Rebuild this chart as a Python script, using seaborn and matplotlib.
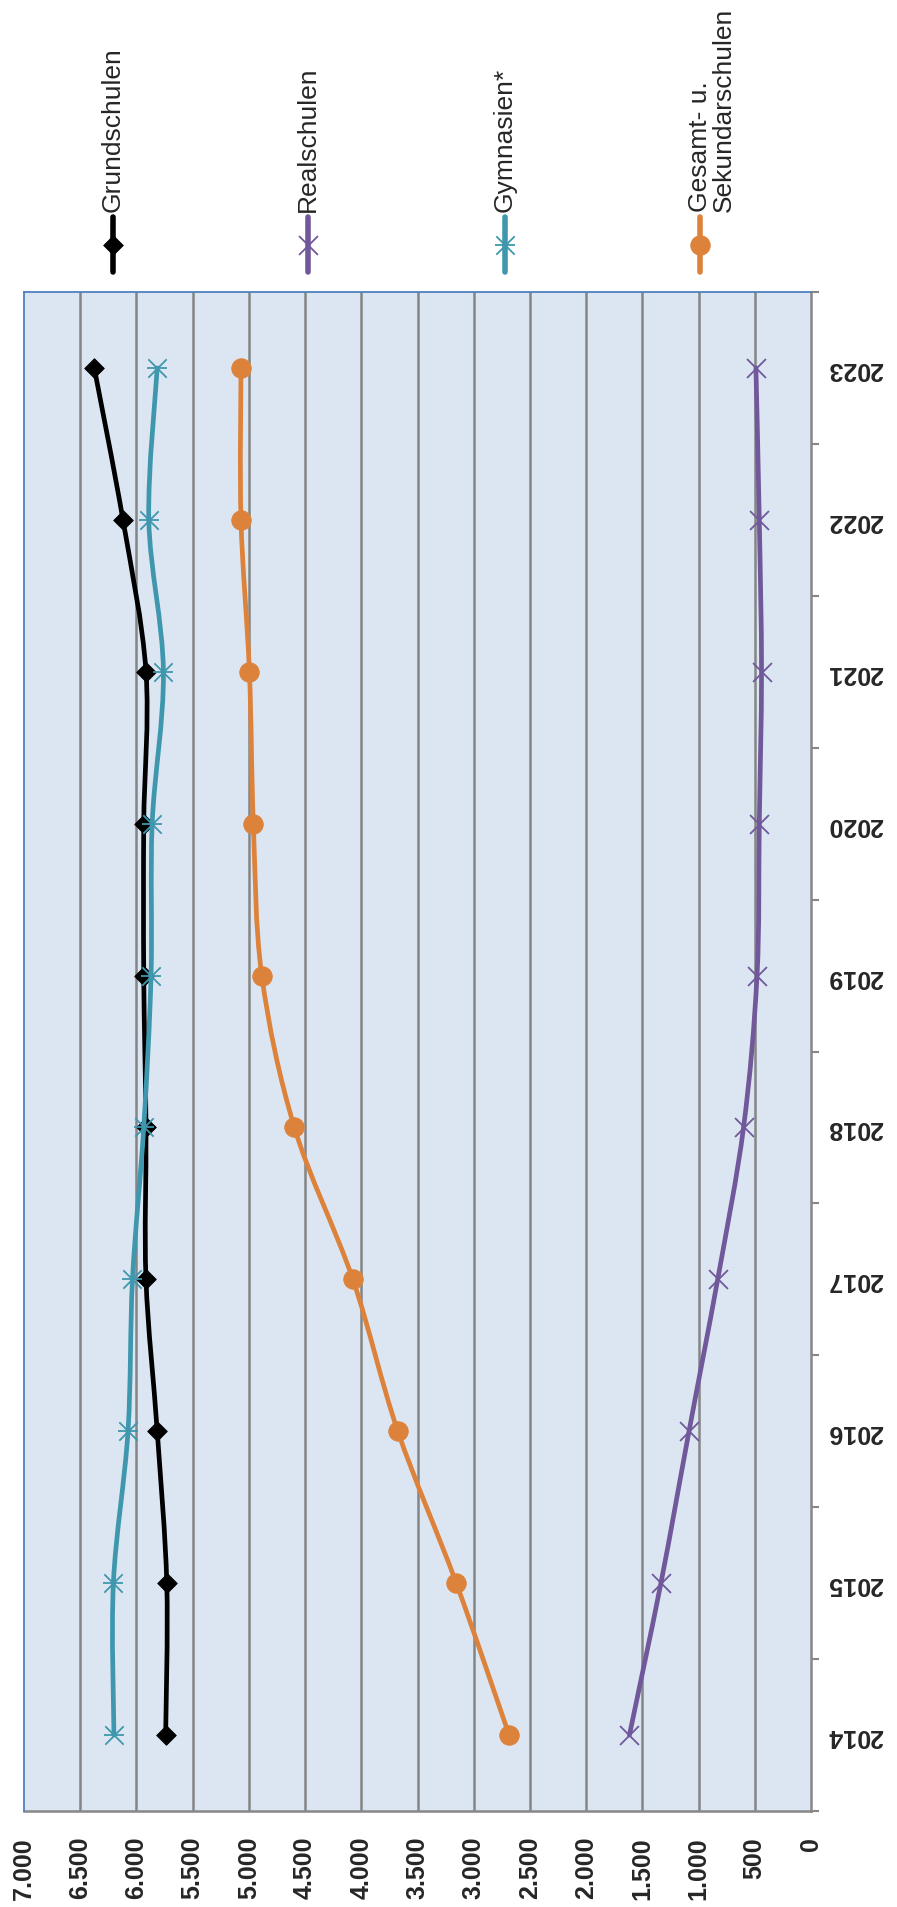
import numpy as np
import matplotlib
matplotlib.use("Agg")
import matplotlib.pyplot as plt
from matplotlib.path import Path
from matplotlib.patches import PathPatch
from matplotlib.lines import Line2D
import seaborn as sns

# ------------------ data ------------------
years = [2014, 2015, 2016, 2017, 2018, 2019, 2020, 2021, 2022, 2023]
grundschulen = [5740, 5730, 5815, 5915, 5915, 5935, 5935, 5915, 6120, 6375]
realschulen = [1615, 1335, 1085, 830, 600, 480, 460, 440, 460, 490]
gymnasien = [6200, 6205, 6075, 6035, 5935, 5870, 5860, 5760, 5890, 5815]
gesamt = [2685, 3155, 3675, 4075, 4595, 4885, 4960, 4995, 5070, 5070]

series_names = ["Grundschulen", "Realschulen", "Gymnasien*", "Gesamt- u.\nSekundarschulen"]
series_values = [grundschulen, realschulen, gymnasien, gesamt]
series_colors = ["#000000", "#71589A", "#3F97AE", "#DD823B"]
value_ticks = list(range(0, 7001, 500))

sns.set_style("white")
plt.rcParams["font.family"] = ["Liberation Sans", "DejaVu Sans"]

W, H = 897, 1908


def smooth_path(xs, ys):
    # Excel-like smoothed line: cubic bezier through the points
    pts = np.column_stack([xs, ys]).astype(float)
    n = len(pts)
    verts = [pts[0]]
    codes = [Path.MOVETO]
    for i in range(n - 1):
        p0 = pts[i - 1] if i > 0 else pts[i]
        p1 = pts[i]
        p2 = pts[i + 1]
        p3 = pts[i + 2] if i + 2 < n else pts[i + 1]
        verts += [p1 + (p2 - p0) / 6, p2 - (p3 - p1) / 6, p2]
        codes += [Path.CURVE4] * 3
    return Path(verts, codes)


def draw_marker(ax, kind, x, y, color, z):
    kw = dict(color=color, ax=ax, zorder=z, legend=False)
    if kind == "diamond":
        sns.scatterplot(x=x, y=y, marker="D", s=100, linewidth=0.6, edgecolor=color, **kw)
    elif kind == "x":
        sns.scatterplot(x=x, y=y, marker="x", s=185, linewidth=1.3, **kw)
    elif kind == "star":
        sns.scatterplot(x=x, y=y, marker="x", s=175, linewidth=1.3, **kw)
        sns.scatterplot(x=x, y=y, marker="_", s=195, linewidth=1.3, **kw)
    else:
        sns.scatterplot(x=x, y=y, marker="o", s=200, linewidth=0.5, edgecolor=color, **kw)


marker_kinds = ["diamond", "x", "star", "circle"]

fig = plt.figure(figsize=(W / 100, H / 100), dpi=100)
ax = fig.add_axes([24 / W, 1 - 1812 / H, (811 - 24) / W, (1812 - 293) / H])
ax.set_facecolor("#DCE6F2")

pos = np.arange(len(years))
for k, (vals, col, kind) in enumerate(zip(series_values, series_colors, marker_kinds)):
    patch = PathPatch(smooth_path(vals, pos), facecolor="none", edgecolor=col,
                      lw=3.4, zorder=3 + 2 * k, capstyle="round", joinstyle="round")
    ax.add_patch(patch)
    draw_marker(ax, kind, vals, pos, col, 4 + 2 * k)

ax.set_xlim(7000, 0)
ax.set_ylim(-0.5, len(years) - 0.5)

# value axis (bottom)
ax.set_xticks(value_ticks)
ax.set_xticklabels([f"{v:,}".replace(",", ".") for v in value_ticks],
                   rotation=90, fontsize=18, fontweight="bold")
ax.tick_params(axis="x", direction="out", length=6, width=1.5, color="#878787", pad=12)
for v in value_ticks[1:-1]:
    ax.axvline(v, color="#858585", lw=1.8, zorder=1)

# year axis (right)
ax.yaxis.tick_right()
ax.set_yticks(pos)
ax.set_yticklabels([str(y) for y in years], rotation=180, fontsize=18,
                   fontweight="bold", va="center")
ax.set_yticks(np.arange(-0.5, len(years)), minor=True)
ax.tick_params(axis="y", which="major", length=0, pad=12)
ax.tick_params(axis="y", which="minor", direction="out", length=6, width=1.5,
               color="#878787", right=True, left=False)

for side in ["left", "top"]:
    ax.spines[side].set_color("#4F81BD")
    ax.spines[side].set_linewidth(1.3)
for side in ["right", "bottom"]:
    ax.spines[side].set_color("#878787")
    ax.spines[side].set_linewidth(1.8)
    ax.spines[side].set_zorder(2)

# legend, rotated like the chart
leg_x = [113, 308, 505, 700]
lax = fig.add_axes([0, 0, 1, 1], facecolor="none")
lax.set_xlim(0, 1)
lax.set_ylim(0, 1)
lax.axis("off")
for k, (name, col, kind) in enumerate(zip(series_names, series_colors, marker_kinds)):
    xf = leg_x[k] / W
    lax.add_line(Line2D([xf, xf], [1 - 218 / H, 1 - 273 / H], color=col, lw=4,
                        solid_capstyle="round", zorder=3))
    draw_marker(lax, kind, [xf], [1 - 246 / H], col, 5)
    if "\n" in name:
        fig.text(688 / W, 1 - 212 / H, name, rotation=90, ha="left", va="bottom",
                 fontsize=19, multialignment="left", linespacing=1.0)
    else:
        fig.text(xf, 1 - 212 / H, name, rotation=90, ha="center", va="bottom", fontsize=19)

fig.savefig("out.png", dpi=100)
